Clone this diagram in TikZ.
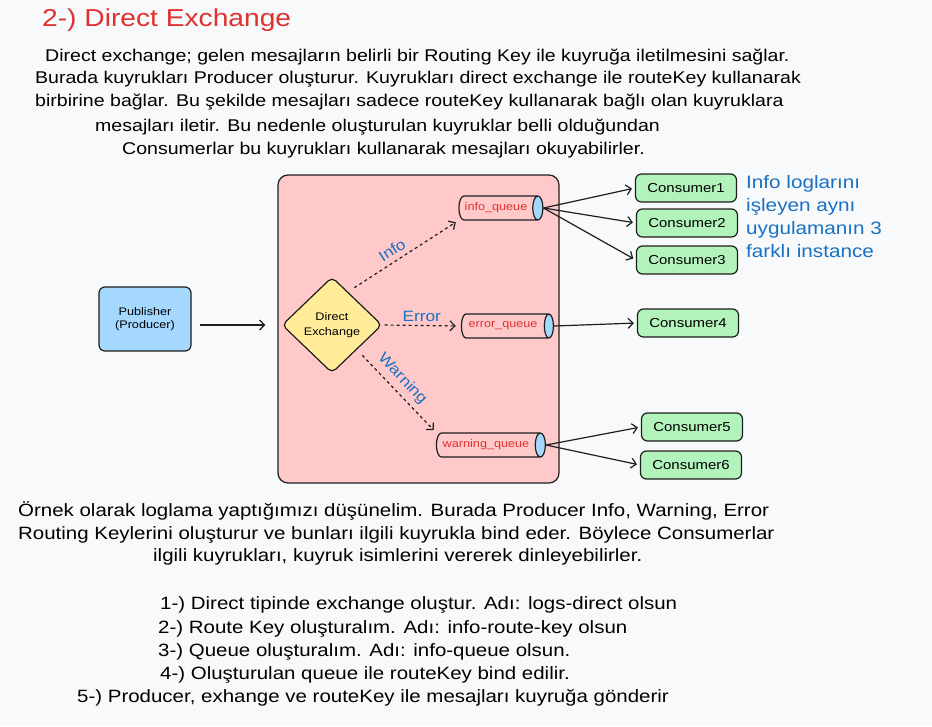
\documentclass[tikz,border=0pt]{standalone}
\usepackage{fontspec}
\setmainfont{Liberation Sans}[FakeStretch=1.15]
\usetikzlibrary{shapes.geometric,arrows.meta}
\definecolor{pagebg}{HTML}{F8F9FA}
\definecolor{ink}{HTML}{1E1E1E}
\definecolor{zonefill}{HTML}{FFC9C9}
\definecolor{pubfill}{HTML}{A5D8FF}
\definecolor{exchfill}{HTML}{FFEC99}
\definecolor{consfill}{HTML}{B2F2BB}
\definecolor{titlered}{HTML}{E03131}
\definecolor{keyblue}{HTML}{1971C2}
\begin{document}
\begin{tikzpicture}[x=1pt, y=-1pt, >={Straight Barb[length=5pt,width=10pt]},
    box/.style={draw=ink, line width=1.2pt, rounded corners=6pt, align=center},
    consumer/.style={box, fill=consfill, minimum width=101pt, minimum height=28pt, font=\fontsize{13}{15}\selectfont},
    queue/.style={cylinder, draw=ink, line width=1.2pt, cylinder uses custom fill, cylinder body fill=zonefill,
      cylinder end fill=pubfill, aspect=0.5, minimum width=24pt, text=titlered, inner xsep=2pt, inner ysep=5pt,
      font=\fontsize{11}{13}\selectfont},
    keylabel/.style={text=keyblue, inner sep=2pt, font=\fontsize{15}{17}\selectfont},
    bodytext/.style={anchor=west, inner sep=0pt, font=\fontsize{17}{20}\selectfont},
    endtext/.style={bodytext, font=\fontsize{17.8}{21}\selectfont}]
  \fill[pagebg] (0,0) rectangle (932,726);
  \useasboundingbox (0,0) rectangle (932,726);
  \node[anchor=west, inner sep=0pt, text=titlered, font=\fontsize{24.5}{28}\selectfont] (title) at (42,20) {2-) Direct Exchange};
  \node[bodytext] (p1) at (45,57) {Direct exchange; gelen mesajların belirli bir Routing Key ile kuyruğa iletilmesini sağlar.};
  \node[bodytext] (p2) at (35,79) {Burada kuyrukları Producer oluşturur. Kuyrukları direct exchange ile routeKey kullanarak};
  \node[bodytext] (p3) at (35,102) {birbirine bağlar. Bu şekilde mesajları sadece routeKey kullanarak bağlı olan kuyruklara};
  \node[bodytext] (p4) at (95,127) {mesajları iletir. Bu nedenle oluşturulan kuyruklar belli olduğundan};
  \node[bodytext] (p5) at (122,150) {Consumerlar bu kuyrukları kullanarak mesajları okuyabilirler.};
  \draw[ink, line width=1.2pt, fill=zonefill, rounded corners=10pt] (278,175) rectangle (559,483);
  \node[box, fill=pubfill, minimum width=92pt, minimum height=64pt, font=\fontsize{11}{13}\selectfont] (pub) at (145,319) {Publisher\\(Producer)};
  \node[diamond, draw=ink, line width=1.2pt, fill=exchfill, rounded corners=5pt, minimum width=100pt, minimum height=96pt,
    inner sep=0pt, align=center, font=\fontsize{11}{15}\selectfont] (exch) at (332,325) {Direct\\Exchange};
  \node[queue, minimum height=84pt] (infoq) at (496,208) {info\_queue};
  \node[queue, minimum height=92pt] (errq) at (503,326) {error\_queue};
  \node[queue, minimum height=109pt] (warnq) at (486,445) {warning\_queue};
  \node[consumer] (c1) at (686,188) {Consumer1};
  \node[consumer] (c2) at (687,223) {Consumer2};
  \node[consumer] (c3) at (687,260) {Consumer3};
  \node[consumer] (c4) at (688,323) {Consumer4};
  \node[consumer] (c5) at (692,427) {Consumer5};
  \node[consumer] (c6) at (691,465) {Consumer6};
  \node[anchor=north west, align=left, inner sep=0pt, text=keyblue, font=\fontsize{18}{23}\selectfont] (note) at (746,175)
    {Info loglarını\\işleyen aynı\\uygulamanın 3\\farklı instance};
  \draw[->, ink, line width=1.2pt, shorten <=8pt, shorten >=16pt] (pub.east |- exch.west) -- (exch.west);
  \draw[->, ink, line width=1.2pt, dashed, shorten >=3pt] ([shift={(-3,-13)}]exch.north east) -- (infoq.west |- infoq.south)
    node[pos=0.42, above=3pt, sloped, keylabel] {Info};
  \draw[->, ink, line width=1.2pt, dashed, shorten <=2pt, shorten >=5pt] (exch.east) -- (errq.west)
    node[midway, above=1pt, keylabel] {Error};
  \draw[->, ink, line width=1.2pt, dashed, shorten >=3pt] ([shift={(5,6)}]exch.south east) -- (warnq.west |- warnq.north)
    node[pos=0.42, above=3pt, sloped, keylabel] {Warning};
  \draw[->, ink, line width=1.2pt, shorten >=3pt] (infoq.east) -- (c1.west);
  \draw[->, ink, line width=1.2pt, shorten >=3pt] (infoq.east) -- (c2.west);
  \draw[->, ink, line width=1.2pt, shorten >=3pt] (infoq.east) -- (c3.west);
  \draw[->, ink, line width=1.2pt, shorten >=3pt] (errq.east) -- (c4.west);
  \draw[->, ink, line width=1.2pt, shorten >=3pt] (warnq.east) -- (c5.west);
  \draw[->, ink, line width=1.2pt, shorten >=3pt] (warnq.east) -- (c6.west);
  \node[endtext] (q1) at (18,511) {Örnek olarak loglama yaptığımızı düşünelim. Burada Producer Info, Warning, Error};
  \node[endtext] (q2) at (18,535) {Routing Keylerini oluşturur ve bunları ilgili kuyrukla bind eder. Böylece Consumerlar};
  \node[endtext] (q3) at (153,557) {ilgili kuyrukları, kuyruk isimlerini vererek dinleyebilirler.};
  \node[endtext] (s1) at (160,605) {1-) Direct tipinde exchange oluştur. Adı: logs-direct olsun};
  \node[endtext] (s2) at (158,629) {2-) Route Key oluşturalım. Adı: info-route-key olsun};
  \node[endtext] (s3) at (158,652) {3-) Queue oluşturalım. Adı: info-queue olsun.};
  \node[endtext] (s4) at (160,675) {4-) Oluşturulan queue ile routeKey bind edilir.};
  \node[endtext] (s5) at (77,698) {5-) Producer, exhange ve routeKey ile mesajları kuyruğa gönderir};
\end{tikzpicture}
\end{document}
